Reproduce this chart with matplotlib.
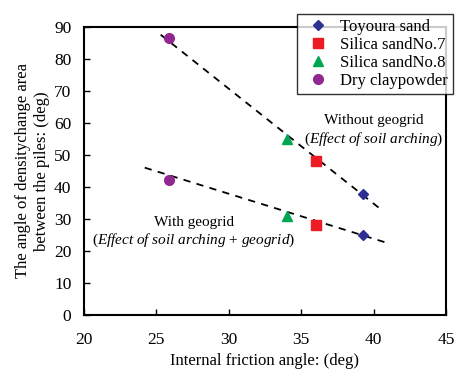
import matplotlib
matplotlib.use('Agg')
import matplotlib.pyplot as plt

plt.rcParams['font.family'] = 'Liberation Serif'
plt.rcParams['mathtext.fontset'] = 'custom'
plt.rcParams['mathtext.it'] = 'Liberation Serif:italic'
plt.rcParams['mathtext.rm'] = 'Liberation Serif'

# data: (friction angle, angle without geogrid, angle with geogrid)
names = ['Toyoura sand', 'Silica sandNo.7', 'Silica sandNo.8', 'Dry claypowder']
phi = [39.3, 36.0, 34.0, 25.9]
without_geo = [37.7, 48.0, 55.0, 86.5]
with_geo = [25.0, 28.0, 31.0, 42.3]
markers = ['D', 's', '^', 'o']
colors = ['#2e3192', '#ed1c24', '#00a651', '#92278f']

# trend lines drawn in the figure
trend_x_without = [25.3, 40.5]
trend_y_without = [87.5, 33.0]
trend_x_with = [24.2, 40.8]
trend_y_with = [46.0, 22.7]

fig = plt.figure(figsize=(4.56, 3.69), dpi=100)
ax = fig.add_axes([0.184, 0.1463, 0.794, 0.7813])

ax.plot(trend_x_without, trend_y_without, 'k--', lw=1.3, dashes=(4, 3.5), zorder=1)
ax.plot(trend_x_with, trend_y_with, 'k--', lw=1.3, dashes=(4, 3.5), zorder=1)

for i in range(len(names)):
    ms = 5.5 if markers[i] == 'D' else 7
    ax.plot([phi[i], phi[i]], [without_geo[i], with_geo[i]], linestyle='none',
            marker=markers[i], color=colors[i], markersize=ms, label=names[i], zorder=3)

ax.text(40.0, 60.6, 'Without geogrid', ha='center', va='center', fontsize=11)
ax.text(40.0, 54.9, r'($\mathit{Effect\ of\ soil\ arching}$)', ha='center', va='center', fontsize=11)
ax.text(27.6, 29.0, 'With geogrid', ha='center', va='center', fontsize=11)
ax.text(27.6, 23.4, r'($\mathit{Effect\ of\ soil\ arching}$ + $\mathit{geogrid}$)', ha='center', va='center', fontsize=11)

ax.set_xlim(20, 45)
ax.set_ylim(0, 90)
ax.set_xticks(range(20, 46, 5))
ax.set_yticks(range(0, 91, 10))
ax.tick_params(direction='in', labelsize=12.5, length=4, width=1)
ax.tick_params(axis='x', pad=12)
ax.tick_params(axis='y', pad=9)
for s in ax.spines.values():
    s.set_linewidth(1.5)

ax.set_xlabel('Internal friction angle: (deg)', fontsize=12, labelpad=4)
ax.set_ylabel('The angle of densitychange area\nbetween the piles: (deg)', fontsize=12, labelpad=3)

leg = fig.legend(loc='upper right', bbox_to_anchor=(0.993, 0.962), fontsize=12,
                 frameon=True, fancybox=False, edgecolor='black', handletextpad=0.4,
                 borderpad=0.3, labelspacing=0.12, handlelength=1.9, borderaxespad=0)
leg.get_frame().set_linewidth(1.0)

fig.savefig('out.png', dpi=100)
